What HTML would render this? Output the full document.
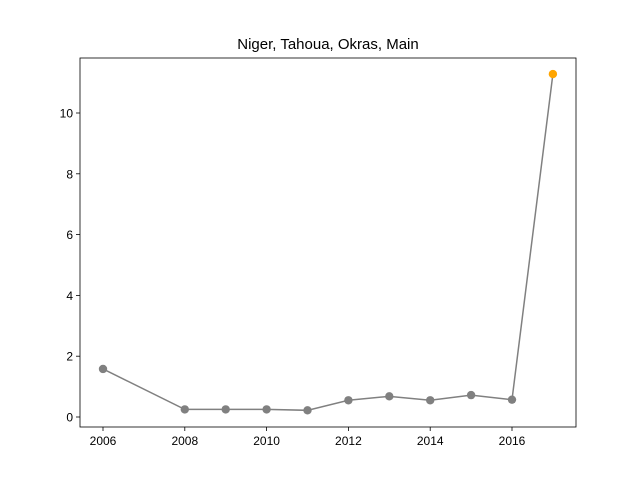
<!DOCTYPE html>
<html><head><meta charset="utf-8"><style>
html,body{margin:0;padding:0;background:#fff}
svg{display:block;font-family:"Liberation Sans","DejaVu Sans",sans-serif}
</style></head><body>
<svg id="chart" width="640" height="480" xmlns="http://www.w3.org/2000/svg"></svg>
<script>
const years = [2006, 2008, 2009, 2010, 2011, 2012, 2013, 2014, 2015, 2016, 2017];
const values = [1.58, 0.25, 0.25, 0.25, 0.22, 0.55, 0.68, 0.55, 0.72, 0.57, 11.28];
const xTicks = [2006, 2008, 2010, 2012, 2014, 2016];
const yTicks = [0, 2, 4, 6, 8, 10];
const titleText = "Niger, Tahoua, Okras, Main";

const NS = "http://www.w3.org/2000/svg";
const svg = document.getElementById('chart');
const L = 80, R = 576, T = 58, B = 427;
function xs(v){ return 103 + (v - 2006) * (512 - 103) / 10; }
function ys(v){ return 417 - v * (417 - 113) / 10; }
function mk(tag, attrs, parent){
  const e = document.createElementNS(NS, tag);
  for (const k in attrs) e.setAttribute(k, attrs[k]);
  (parent || svg).appendChild(e);
  return e;
}
const title = mk('text', {x: 328, y: 49, 'text-anchor': 'middle', 'font-size': 15, fill: '#000'});
title.textContent = titleText;



xTicks.forEach(t => {
  const g = mk('g', {});
  
  
  mk('line', {x1: xs(t), x2: xs(t), y1: B, y2: B + 4, stroke: '#000', 'stroke-width': 0.8}, g);
  const tx = mk('text', {x: xs(t), y: B + 18, 'text-anchor': 'middle', 'font-size': 12}, g);
  tx.textContent = t;
});
yTicks.forEach(t => {
  const g = mk('g', {});
  
  
  mk('line', {x1: L - 4, x2: L, y1: ys(t), y2: ys(t), stroke: '#000', 'stroke-width': 0.8}, g);
  const tx = mk('text', {x: L - 7, y: ys(t) + 4.5, 'text-anchor': 'end', 'font-size': 12}, g);
  tx.textContent = t;
});

const pts = years.map((y, i) => xs(y) + ',' + ys(values[i])).join(' ');
const line = mk('polyline', {points: pts, fill: 'none', stroke: '#808080', 'stroke-width': 1.5});


years.forEach((y, i) => {
  const last = i === years.length - 1;
  const c = mk('circle', {cx: xs(y), cy: ys(values[i]), r: 4.2, fill: last ? '#ffa500' : '#808080'});
  
  
});

const frame = mk('rect', {x: L, y: T, width: R - L, height: B - T, fill: 'none', stroke: '#000', 'stroke-width': 0.8});


</script>
</body></html>
